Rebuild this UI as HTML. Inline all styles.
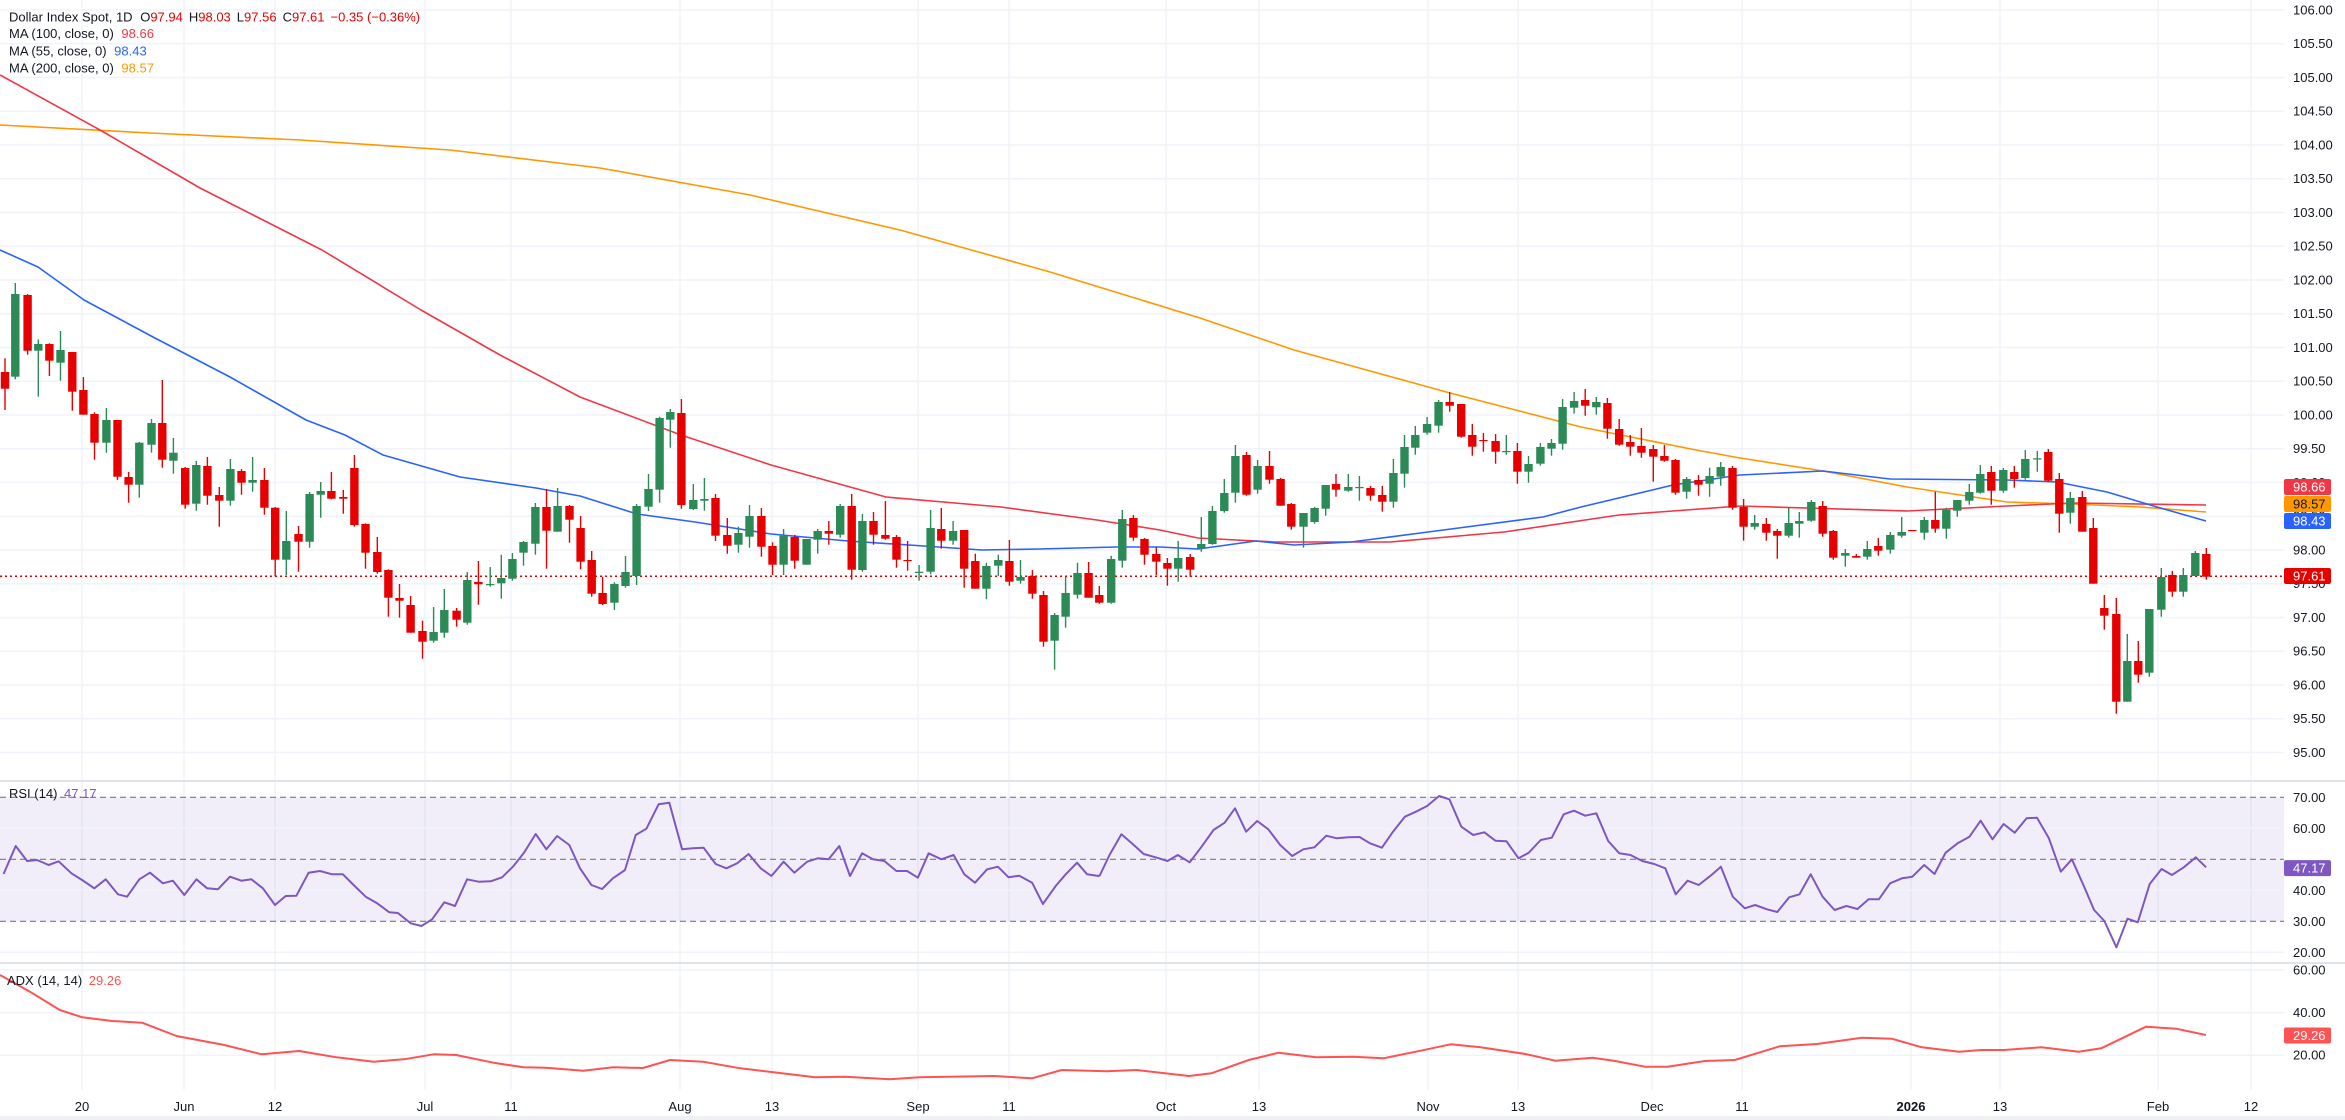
<!DOCTYPE html>
<html><head><meta charset="utf-8">
<style>
html,body{margin:0;padding:0;background:#fff;}
svg{display:block;font-family:"Liberation Sans",Arial,sans-serif;}
</style></head>
<body>
<svg id="s" width="2345" height="1120" viewBox="0 0 2345 1120" xmlns="http://www.w3.org/2000/svg"></svg>
<script>
const S=[];
function add(x){S.push(x);}
const PR=2284;
function py(p){return 576.3+(97.61-p)*67.5;}
function ry(v){return 797.3+(70-v)*3.1;}
function ay(v){return 970+(60-v)*2.13;}
add('<rect x="0" y="0" width="2345" height="1120" fill="#fff"/>');
for(let p=95;p<=106.001;p+=0.5){add(`<line x1="0" x2="${PR}" y1="${py(p).toFixed(1)}" y2="${py(p).toFixed(1)}" stroke="#f0f3fa" stroke-width="1.5"/>`);}
const dates=[[82,"20"],[184,"Jun"],[275,"12"],[425,"Jul"],[511,"11"],[680,"Aug"],[772,"13"],[918,"Sep"],[1009,"11"],[1166,"Oct"],[1259,"13"],[1428,"Nov"],[1518,"13"],[1652,"Dec"],[1742,"11"],[1911,"2026"],[2000,"13"],[2158,"Feb"],[2251,"12"]];
for(const d of dates){add(`<line x1="${d[0]}" x2="${d[0]}" y1="0" y2="1090" stroke="#f0f3fa" stroke-width="1.5"/>`);
 add(`<text x="${d[0]}" y="1111" font-size="13" text-anchor="middle" fill="#131722"${d[1]=="2026"?' font-weight="bold"':''}>${d[1]}</text>`);}
add(`<rect x="0" y="${ry(70)}" width="${PR}" height="${ry(30)-ry(70)}" fill="#7e57c2" fill-opacity="0.1"/>`);
for(const v of [60,40,20]) add(`<line x1="0" x2="${PR}" y1="${ry(v)}" y2="${ry(v)}" stroke="#f0f3fa" stroke-width="1.5"/>`);
for(const v of [70,50,30]) add(`<line x1="0" x2="${PR}" y1="${ry(v)}" y2="${ry(v)}" stroke="#787b86" stroke-width="1.2" stroke-dasharray="6 4"/>`);
for(const v of [60,40,20]) add(`<line x1="0" x2="${PR}" y1="${ay(v)}" y2="${ay(v)}" stroke="#f0f3fa" stroke-width="1.5"/>`);
add(`<line x1="0" x2="2345" y1="781" y2="781" stroke="#e0e3eb" stroke-width="2"/>`);
add(`<line x1="0" x2="2345" y1="963" y2="963" stroke="#e0e3eb" stroke-width="2"/>`);
add(`<rect x="0" y="1116" width="2345" height="4" fill="#eef0f4"/>`);
function pl(pts,col,w){add(`<polyline fill="none" stroke="${col}" stroke-width="${w}" stroke-linejoin="round" points="${pts.map(p=>p[0].toFixed(1)+','+p[1].toFixed(1)).join(' ')}"/>`);}
pl([[0,125],[150,133],[300,140],[450,150],[600,168],[750,195],[900,230],[1050,272],[1200,318],[1294,350],[1450,393],[1581,427],[1696,450],[1740,458],[1823,471],[1907,487],[2007,502],[2073,504],[2140,507],[2206,512]],"#ff9800",1.6);
pl([[0,75],[100,130],[200,188],[322,250],[421,310],[500,355],[580,397],[681,435],[771,465],[886,497],[1001,507],[1097,520],[1160,530],[1198,538],[1275,542],[1390,542],[1504,532],[1619,515],[1740,506],[1907,511],[2007,506],[2073,503],[2206,505]],"#f23645",1.6);
pl([[0,250],[38,267],[84,300],[153,337],[230,377],[306,420],[345,435],[383,455],[460,477],[536,488],[580,496],[637,514],[695,522],[771,534],[848,541],[924,546],[982,550],[1039,549],[1116,547],[1160,547],[1198,549],[1256,541],[1294,545],[1351,542],[1428,532],[1543,517],[1581,507],[1673,485],[1740,475],[1823,471],[1890,479],[2007,480],[2057,482],[2107,492],[2157,507],[2206,521]],"#2962ff",1.6);
add(`<line x1="0" x2="2284" y1="576.3" y2="576.3" stroke="#e60000" stroke-width="1.5" stroke-dasharray="2 3"/>`);
const Z=[
 {ox:0,oy:250,sx:2.613,d:[[13,0,366,416,325,480],[40,1,132,380,99,388],[72,0,135,302,132,314],[100,1,282,302,268,440],[129,0,282,332,280,378],[158,1,300,338,243,392],[189,0,306,425,306,482],[218,0,420,494,381,494],[247,0,492,578,487,629],[278,1,510,578,474,608],[307,0,510,680,510,690],[336,0,681,704,666,758],[364,1,578,704,576,743],[396,1,519,584,507,608],[424,0,519,629,390,653],[453,1,608,632,564,671],[484,0,654,764,651,776],[513,1,645,761,633,782],[542,0,648,737,621,764],[573,0,735,752,711,830],[602,1,657,752,627,767],[631,0,663,698,657,734],[660,1,690,698,621,725],[691,0,690,773,654,794],[719,0,773,929,771,979],[748,1,873,929,783,975],[780,0,852,875,828,965],[809,1,732,875,726,893],[838,1,723,734,696,803],[866,0,723,746,666,748],[897,0,741,746,720,791],[926,0,654,825,615,830],[955,0,822,908,820,956],[986,0,906,966,861,971],[1015,0,960,1043,958,1100],[1044,0,1044,1052,1002,1103],[1073,0,1065,1148,1038,1148],[1104,0,1143,1175,1112,1226],[1133,1,1146,1172,1071,1178],[1161,1,1080,1148,1017,1163],[1193,0,1082,1109,1074,1130],[1221,1,990,1118,966,1124],[1250,0,996,1003,933,1064],[1281,1,1002,1004,951,1010],[1310,1,984,1000,914,1046],[1339,1,927,986,909,992],[1368,1,876,908,873,947],[1399,1,771,881,759,914],[1428,0,771,842,717,956],[1457,1,768,845,714,845],[1488,0,768,809,765,878],[1517,0,834,935,798,958],[1546,0,930,1031,903,1040]]},
 {ox:580,oy:350,sx:2.613,d:[[59,0,729,762,680,765],[90,1,702,758,697,780],[119,1,666,708,618,713],[148,1,468,678,462,705],[179,1,417,470,372,483],[208,1,204,419,200,458],[236,1,186,209,177,293],[265,0,189,465,147,476],[296,1,450,477,402,480],[325,1,447,452,384,482],[354,0,444,557,432,573],[385,0,555,587,504,611],[414,1,549,584,530,608],[443,1,498,560,465,593],[474,0,498,590,474,620],[503,0,588,644,577,675],[532,1,557,644,537,675],[561,0,561,632,555,656],[592,1,567,644,567,644],[621,1,543,569,537,611],[650,0,543,551,513,584],[680,1,468,554,462,563],[710,0,468,659,432,689],[738,1,513,660,492,665],[767,0,513,554,486,584],[798,0,555,566,453,569],[827,0,561,629,555,653],[856,0,630,632,573,662],[886,1,665,667,645,692],[916,1,534,665,480,673],[944,0,537,572,474,596],[975,1,543,572,513,584],[1004,0,540,656,540,713],[1033,0,633,716,611,716],[1062,1,648,716,638,748],[1093,1,630,647,614,678],[1122,0,633,695,570,707],[1151,1,681,692,630,701],[1182,0,678,731,660,746],[1211,0,735,875,723,890],[1240,1,795,872,789,959],[1269,1,729,800,681,833],[1300,1,669,734,638,746],[1329,0,669,743,636,743],[1357,0,735,758,708,761],[1388,1,627,758,617,761],[1417,1,507,632,480,653],[1446,0,504,563,495,572],[1475,0,567,614,564,644],[1506,0,612,635,591,675],[1535,0,639,656,624,707],[1563,1,624,656,573,695]]},
 {ox:1160,oy:350,sx:2.613,d:[[79,0,621,659,612,680],[108,1,582,596,501,605],[137,1,483,582,468,584],[168,1,429,483,387,488],[197,1,318,428,285,458],[226,0,315,434,306,437],[255,1,348,419,330,431],[286,0,348,389,303,401],[315,0,387,467,384,467],[343,0,462,530,459,539],[375,1,489,530,489,593],[404,1,474,516,471,521],[433,1,405,476,405,497],[460,0,402,419,372,440],[492,1,411,422,372,425],[521,1,411,413,378,452],[550,0,414,437,408,452],[581,0,435,455,408,485],[610,1,369,455,327,473],[639,1,291,371,255,413],[667,1,255,293,228,314],[698,1,222,248,201,254],[728,1,156,227,150,248],[757,0,156,167,126,185],[787,0,162,260,162,263],[816,0,255,290,222,317],[845,0,270,272,249,305],[877,0,273,305,252,341],[905,1,303,305,255,314],[934,0,303,365,279,401],[963,1,342,365,318,398],[994,1,291,341,279,347],[1023,1,279,296,267,317],[1052,1,171,281,147,299],[1082,1,153,173,126,191],[1111,0,150,167,117,197],[1140,1,156,172,141,194],[1169,0,159,236,144,266],[1200,0,237,284,207,287],[1229,0,276,290,255,317],[1258,0,288,308,234,323],[1289,0,297,320,285,395],[1318,0,318,332,285,335],[1347,0,330,428,327,434],[1376,1,387,425,381,446],[1407,0,390,404,375,437],[1436,1,378,401,353,440],[1465,1,351,380,336,407],[1496,0,354,473,348,479],[1525,0,471,530,447,572],[1554,1,519,530,495,539]]},
 {ox:1740,oy:380,sx:3,d:[[79,0,432,458,414,482],[112,0,453,467,447,536],[146,1,429,467,381,473],[178,1,423,431,396,473],[214,1,366,422,360,425],[248,0,378,461,363,470],[280,0,453,533,450,539],[316,1,519,527,507,560],[349,0,528,533,522,533],[382,1,507,530,483,539],[415,0,498,512,474,527],[451,1,465,509,456,521],[485,1,456,467,411,473],[517,0,450,452,450,452],[553,1,420,458,411,479],[586,0,420,446,335,458],[619,1,389,446,383,476],[652,1,360,392,360,410],[688,1,336,362,312,374],[721,1,282,338,255,341],[754,0,276,332,258,374],[790,1,270,332,264,338],[823,0,276,297,258,323],[856,1,237,294,210,299],[892,1,235,236,213,275],[925,0,216,302,207,305],[958,0,297,401,279,458],[991,1,354,398,336,431],[1027,0,351,455,333,455],[1060,0,444,611,414,611],[1093,0,684,707,645,749],[1129,0,702,965,654,1001],[1162,1,843,965,762,965],[1195,0,843,884,783,908],[1228,1,687,878,687,890],[1264,1,591,689,564,710],[1297,0,585,635,573,650],[1330,1,585,635,564,650],[1366,1,519,588,513,588],[1399,0,522,590,504,599]]}
];
for(const z of Z){for(const c of z.d){
 const x=z.ox+c[0]/z.sx, bt=z.oy+c[2]/3, bb=z.oy+c[3]/3, wt=z.oy+c[4]/3, wb=z.oy+c[5]/3;
 const col=c[1]?"#2c8a57":"#e60000";
 add(`<line x1="${x.toFixed(1)}" x2="${x.toFixed(1)}" y1="${wt.toFixed(1)}" y2="${wb.toFixed(1)}" stroke="${col}" stroke-width="1.4"/>`);
 add(`<rect x="${(x-4.2).toFixed(1)}" y="${bt.toFixed(1)}" width="8.4" height="${Math.max(1.2,bb-bt).toFixed(1)}" fill="${col}"/>`);
}}
const r7=[[5,282],[22,198],[38,243],[52,240],[68,255],[82,244],[100,280],[115,300],[132,325],[148,298],[165,343],[178,350],[195,298],[210,278],[228,310],[242,302],[258,345],[275,298],[290,325],[305,328],[322,290],[338,302],[352,298],[368,325],[385,375],[400,348],[415,347],[432,278],[448,273],[465,283],[480,283],[495,315],[512,350],[528,370],[545,397],[557,399],[575,430],[590,438],[605,418],[622,367],[637,378],[654,298],[670,305],[687,304],[703,292],[718,260],[733,220],[750,162],[765,208],[780,168],[797,195],[812,265],[828,315],[843,327],[858,295],[875,270],[890,165],[905,146],[922,73],[937,68],[955,208],[970,205],[985,203],[1002,252],[1017,265],[1032,250],[1048,222],[1065,265],[1080,288],[1097,245],[1112,278],[1130,245],[1145,235],[1160,238],[1175,198],[1190,288],[1207,220],[1222,238],[1238,243],[1255,273],[1270,273],[1285,293],[1300,220],[1318,238],[1335,225],[1350,283],[1365,308],[1382,268],[1397,260],[1412,292],[1427,287],[1445,308],[1460,372],[1478,318],[1492,283],[1508,248],[1522,283],[1538,288]];
const r8=[[0,285],[12,225],[27,163],[40,190],[55,222],[70,232],[85,243],[98,225],[113,247],[128,200],[143,150],[157,128],[170,85],[184,155],[198,123],[212,148],[227,195],[242,228],[256,208],[270,202],[285,167],[298,175],[313,172],[327,171],[340,190],[355,203],[369,155],[384,110],[398,95],[412,78],[427,48],[440,58],[455,140],[470,165],[484,157],[498,182],[512,184],[527,235],[540,218],[555,180],[569,173],[584,103],[597,92],[611,107],[625,100],[640,183],[654,220],[668,225],[683,243],[698,252],[712,265],[725,343],[740,302],[754,315],[769,287],[782,260],[797,350],[812,385],[825,375],[840,388],[853,396],[868,352],[881,343],[895,283],[910,350],[925,390],[940,378],[954,387],[968,358],[981,358],[995,310],[1010,295],[1023,290],[1038,255],[1051,282],[1065,218],[1080,190],[1095,170],[1109,122],[1124,178],[1138,132],[1152,158],[1167,115],[1180,113],[1195,175],[1210,275],[1224,238],[1239,318],[1252,390],[1265,423],[1280,502],[1294,416],[1307,427],[1322,312],[1337,267],[1350,285],[1365,262],[1380,232],[1393,262]];
const rp=r7.map(p=>[p[0]/1.4,780+p[1]/3]).concat(r8.map(p=>[1100+p[0]/1.2594,780+p[1]/3]));
pl(rp,"#7e57c2",2);
const a9=[[0,45],[20,95],[40,150],[55,172],[75,183],[95,188],[118,228],[150,255],[175,283],[200,273],[225,292],[250,305],[270,298],[290,283],[305,285],[330,308],[350,322],[365,323],[390,332],[410,322],[430,324],[448,300],[470,305],[495,325],[520,338],[545,352],[565,350],[595,358],[615,352],[665,348],[690,355],[710,330],[740,334],[760,330],[795,348],[810,340],[835,300],[855,278],[880,292],[905,290],[925,295],[950,272],[970,253],[990,262],[1020,282],[1040,302],[1065,293],[1080,303],[1100,320],[1115,320],[1140,303],[1160,300],[1190,259],[1215,252],[1245,233],[1265,236],[1285,262],[1310,275],[1325,270],[1340,270],[1365,262],[1390,275],[1405,265],[1435,200],[1455,206],[1475,225]];
pl(a9.map(p=>[p[0]*1.4955,960+p[1]/3]),"#ff5252",2);
for(let p=95;p<=106.001;p+=0.5){add(`<text x="2293" y="${(py(p)+4.5).toFixed(1)}" font-size="13" fill="#131722">${p.toFixed(2)}</text>`);}
for(const v of [70,60,40,30,20]) add(`<text x="2293" y="${(ry(v)+4.5).toFixed(1)}" font-size="13" fill="#131722">${v.toFixed(2)}</text>`);
for(const v of [60,40,20]) add(`<text x="2293" y="${(ay(v)+4.5).toFixed(1)}" font-size="13" fill="#131722">${v.toFixed(2)}</text>`);
function box(y,col,txt,tc){add(`<rect x="2284" y="${y-8}" width="47" height="16" rx="2" fill="${col}"/><text x="2293" y="${y+4.5}" font-size="13" fill="${tc||'#fff'}">${txt}</text>`);}
box(487,"#f23645","98.66");box(504,"#ff9800","98.57","#131722");box(521,"#2962ff","98.43");box(576,"#e60000","97.61");
box(ry(47.17),"#7e57c2","47.17");box(ay(29.26),"#ff5252","29.26");
const R="#e60000";
add(`<text x="9" y="21.5" font-size="13" fill="#131722">Dollar Index Spot, 1D <tspan dx="4">O</tspan><tspan fill="${R}">97.94</tspan><tspan dx="6">H</tspan><tspan fill="${R}">98.03</tspan><tspan dx="6">L</tspan><tspan fill="${R}">97.56</tspan><tspan dx="6">C</tspan><tspan fill="${R}">97.61</tspan><tspan dx="6" fill="${R}">−0.35 (−0.36%)</tspan></text>`);
add(`<text x="9" y="38" font-size="13" fill="#131722">MA (100, close, 0) <tspan dx="4" fill="#f23645">98.66</tspan></text>`);
add(`<text x="9" y="55.5" font-size="13" fill="#131722">MA (55, close, 0) <tspan dx="4" fill="#2962ff">98.43</tspan></text>`);
add(`<text x="9" y="72.5" font-size="13" fill="#131722">MA (200, close, 0) <tspan dx="4" fill="#ff9800">98.57</tspan></text>`);
add(`<text x="9" y="798" font-size="13" fill="#131722">RSI (14) <tspan dx="3" fill="#7e57c2">47.17</tspan></text>`);
add(`<text x="7" y="985" font-size="13" fill="#131722">ADX (14, 14) <tspan dx="3" fill="#ff5252">29.26</tspan></text>`);
document.getElementById('s').innerHTML=S.join('');
</script>
</body></html>
